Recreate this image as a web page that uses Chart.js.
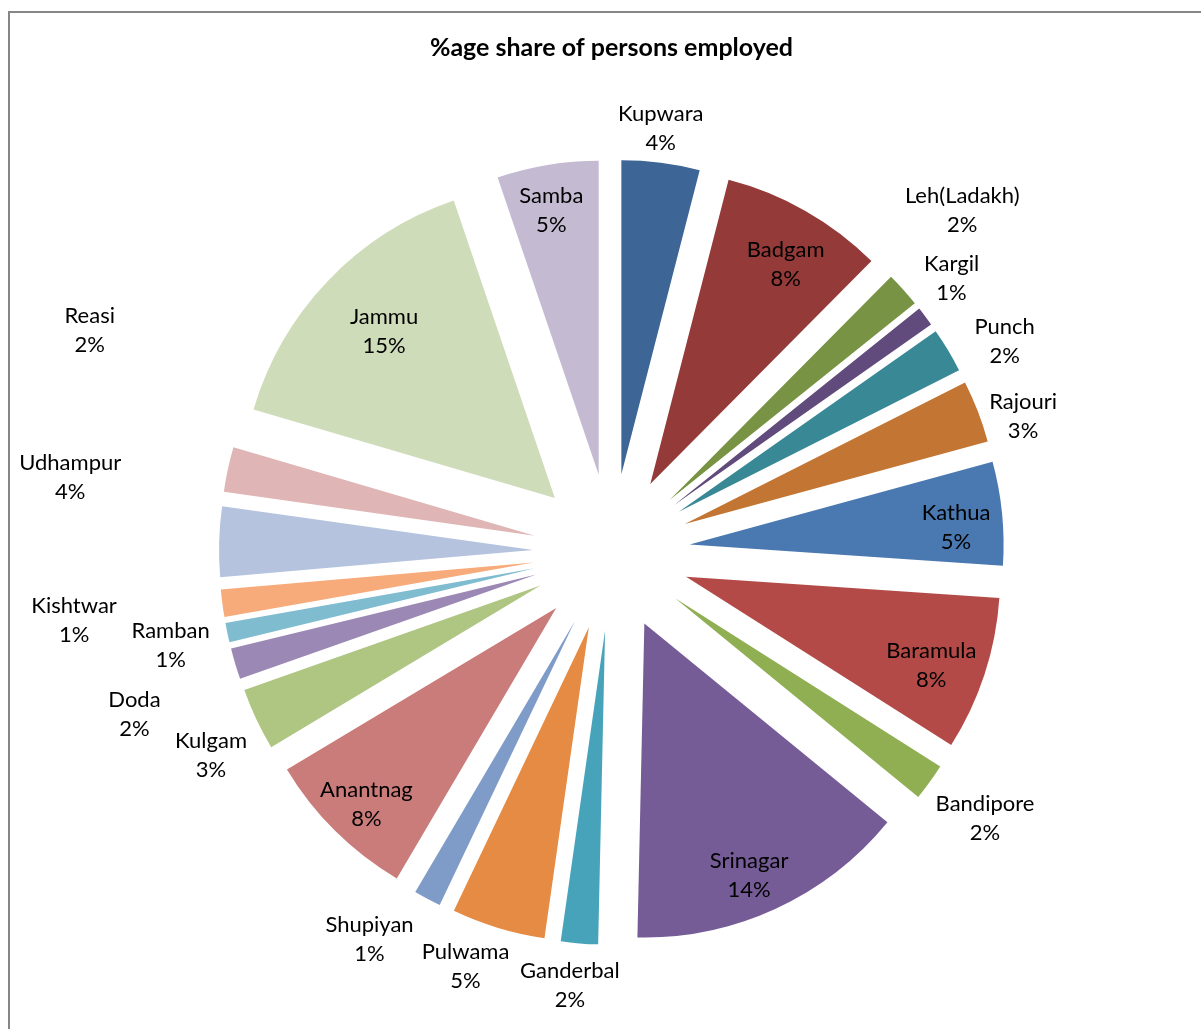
<!DOCTYPE html>
<html>
<head>
<meta charset="utf-8">
<script src="https://cdn.jsdelivr.net/npm/chart.js@4.4.1/dist/chart.umd.min.js"></script>
<style>
  html, body { margin: 0; padding: 0; background: #fff; }
  canvas { display: block; }
</style>
</head>
<body>
<canvas id="shareChart" width="1201" height="1029"></canvas>
<script>
// districts, clockwise from 12 o'clock
const districts = ['Kupwara', 'Badgam', 'Leh(Ladakh)', 'Kargil', 'Punch', 'Rajouri', 'Kathua', 'Baramula',
  'Bandipore', 'Srinagar', 'Ganderbal', 'Pulwama', 'Shupiyan', 'Anantnag', 'Kulgam', 'Doda',
  'Ramban', 'Kishtwar', 'Udhampur', 'Reasi', 'Jammu', 'Samba'];
// share of persons employed (%)
const shares = [4.0, 8.4, 1.8, 1.0, 2.3, 3.2, 5.3, 7.9, 1.9, 14.4, 1.9, 4.8, 1.4, 7.9, 3.2, 1.6,
  1.0, 1.4, 3.6, 2.3, 15.2, 5.2];
const sliceColors = ['#3d6595', '#943b39', '#789343', '#614b7c', '#388896', '#c37634',
  '#4a78b0', '#b34a47', '#8faf52', '#765c97', '#46a3ba', '#e68b43',
  '#7f9cc8', '#ca7c7b', '#afc683', '#9c88b4', '#7fbcd0', '#f7ab7a',
  '#b5c3de', '#dfb5b5', '#cfdcba', '#c4bad2'];

// label placement: distance from pie centre (x radius) and angular nudge (deg)
const labelDist = [1.36, 1.07, 1.56, 1.39, 1.42, 1.38, 1.10, 1.08, 1.46, 1.12, 1.385, 1.40,
  1.455, 1.12, 1.43, 1.605, 1.435, 1.725, 1.74, 1.805, 1.01, 1.105];
const labelShift = [-0.6, 1.6, -2.3, -1.9, 2.8, 2.8, 1.6, 1.3, -0.4, 1.7, 0.8, 2.6,
  4.0, -0.6, -1.7, -2.3, -0.1, 0.3, 6.3, 10.8, 0.4, -0.6];

const EXPLODE = 0.25;
const FONT = 'Lato, "Open Sans", sans-serif';

const total = shares.reduce((a, b) => a + b, 0);

const frame = {
  id: 'frame',
  beforeDraw(chart) {
    const ctx = chart.ctx;
    ctx.save();
    ctx.strokeStyle = '#868686';
    ctx.lineWidth = 2;
    ctx.beginPath();
    ctx.moveTo(9, chart.height + 5);
    ctx.lineTo(9, 12);
    ctx.lineTo(chart.width + 5, 12);
    ctx.stroke();
    ctx.restore();
  }
};

// exploded pie: draw each arc pushed out along its middle angle
const explode = {
  id: 'explode',
  beforeDatasetDraw(chart, args) {
    const ctx = chart.ctx;
    args.meta.data.forEach(arc => {
      const mid = (arc.startAngle + arc.endAngle) / 2;
      const d = arc.outerRadius * EXPLODE;
      ctx.save();
      ctx.translate(Math.cos(mid) * d, Math.sin(mid) * d);
      arc.draw(ctx);
      ctx.restore();
    });
    return false;
  },
  afterDatasetsDraw(chart) {
    const ctx = chart.ctx;
    const meta = chart.getDatasetMeta(0);
    ctx.save();
    ctx.fillStyle = '#000';
    ctx.font = '22px ' + FONT;
    ctx.textAlign = 'center';
    ctx.textBaseline = 'middle';
    meta.data.forEach((arc, i) => {
      const mid = (arc.startAngle + arc.endAngle) / 2 + labelShift[i] * Math.PI / 180;
      const r = arc.outerRadius * labelDist[i];
      const x = arc.x + Math.cos(mid) * r;
      const y = arc.y + Math.sin(mid) * r;
      const pct = Math.round(shares[i] / total * 100) + '%';
      ctx.fillText(districts[i], x, y - 14.5);
      ctx.fillText(pct, x, y + 14.5);
    });
    ctx.restore();
  }
};

new Chart(document.getElementById('shareChart'), {
  type: 'pie',
  data: {
    labels: districts,
    datasets: [{
      data: shares,
      backgroundColor: sliceColors,
      borderWidth: 0,
      radius: 314
    }]
  },
  options: {
    responsive: false,
    animation: false,
    events: [],
    layout: { padding: { left: 22, right: 0, top: 0, bottom: 0 } },
    plugins: {
      legend: { display: false },
      tooltip: { enabled: false },
      title: {
        display: true,
        text: '%age share of persons employed',
        color: '#000',
        font: { family: FONT, size: 25, weight: 'bold' },
        padding: { top: 33, bottom: 12.4 }
      }
    }
  },
  plugins: [frame, explode]
});
</script>
</body>
</html>
